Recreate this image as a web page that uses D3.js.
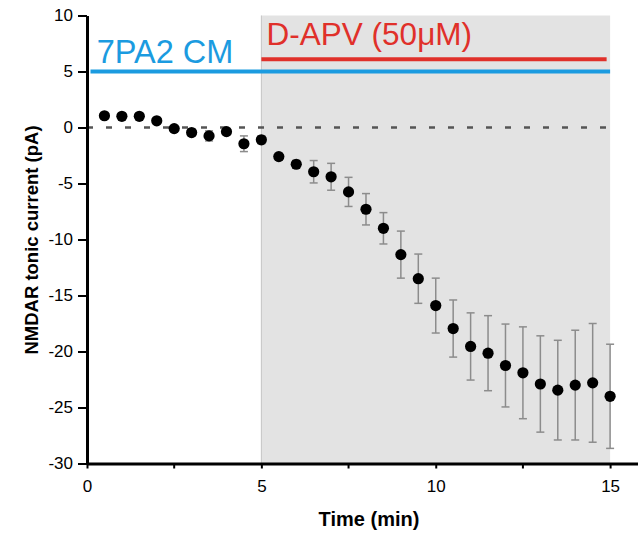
<!DOCTYPE html>
<html>
<head>
<meta charset="utf-8">
<script src="https://cdn.jsdelivr.net/npm/d3@7"></script>
<style>
  body { margin: 0; background: #fff; }
  svg { display: block; font-family: Arial, "Liberation Sans", sans-serif; }
  .axis text { font-size: 17px; font-family: Arial, "Liberation Sans", sans-serif; fill: #000; }
</style>
</head>
<body>
<div id="root"></div>
<script>
// time points (min)
const times = [0.5, 1, 1.5, 2, 2.5, 3, 3.5, 4, 4.5, 5, 5.5, 6, 6.5, 7, 7.5, 8, 8.5, 9, 9.5, 10,
  10.5, 11, 11.5, 12, 12.5, 13, 13.5, 14, 14.5, 15];
// mean NMDAR tonic current (pA)
const means = [1.05, 1.0, 1.0, 0.6, -0.1, -0.45, -0.75, -0.37, -1.45, -1.1, -2.6, -3.28, -3.95, -4.4,
  -5.75, -7.3, -9.0, -11.35, -13.5, -15.9, -17.95, -19.55, -20.15, -21.25, -21.9, -22.9, -23.45,
  -23.0, -22.8, -24.0];
// SEM (pA)
const sems = [0.2, 0.2, 0.2, 0.2, 0.25, 0.3, 0.45, 0.25, 0.7, 0.35, 0.3, 0.35, 1.0, 1.2,
  1.3, 1.4, 1.4, 2.1, 2.2, 2.45, 2.55, 3.0, 3.35, 3.7, 4.1, 4.3, 4.45, 4.9, 5.3, 4.65];

const xTicks = [0, 5, 10, 15];
const xMinorTicks = [2.5, 7.5, 12.5];
const yTicks = [10, 5, 0, -5, -10, -15, -20, -25, -30];

// drug application periods
const cmPeriod = [0.1, 15];   // 7PA2 CM
const apvPeriod = [5, 14.9];  // D-APV
const shadePeriod = [5, 15];

const data = times.map((t, i) => ({ t: t, m: means[i], e: sems[i] }));

const W = 638, H = 535;
const x = d3.scaleLinear().domain([0, 15.8]).range([87, 638]);
const y = d3.scaleLinear().domain([-30, 10]).range([463.5, 15.5]);

const svg = d3.select('#root').append('svg')
  .attr('width', W)
  .attr('height', H);

// shaded D-APV region
svg.append('rect')
  .attr('x', x(shadePeriod[0]))
  .attr('y', y(10))
  .attr('width', x(shadePeriod[1]) - x(shadePeriod[0]))
  .attr('height', y(-30) - y(10))
  .attr('fill', '#e3e3e3');
svg.append('line')
  .attr('x1', x(shadePeriod[0])).attr('x2', x(shadePeriod[0]))
  .attr('y1', y(10)).attr('y2', y(-30))
  .attr('stroke', '#c4c4c4').attr('stroke-width', 1);

// zero line
svg.append('line')
  .attr('x1', x(0)).attr('x2', x(15))
  .attr('y1', y(0)).attr('y2', y(0))
  .attr('stroke', '#555').attr('stroke-width', 2.5)
  .attr('stroke-dasharray', '6,13');

// application bars
svg.append('line')
  .attr('x1', x(cmPeriod[0])).attr('x2', x(cmPeriod[1]))
  .attr('y1', y(5)).attr('y2', y(5))
  .attr('stroke', '#1b9be0').attr('stroke-width', 4);
svg.append('line')
  .attr('x1', x(apvPeriod[0])).attr('x2', x(apvPeriod[1]))
  .attr('y1', y(6.1)).attr('y2', y(6.1))
  .attr('stroke', '#e0302a').attr('stroke-width', 4);

svg.append('text')
  .attr('x', x(0.28)).attr('y', 63)
  .attr('fill', '#1b9be0')
  .attr('font-size', 32.5)
  .text('7PA2 CM');
svg.append('text')
  .attr('x', x(5.15)).attr('y', 45)
  .attr('fill', '#e0302a')
  .attr('font-size', 31.5)
  .text('D-APV (50μM)');

// error bars
const eb = svg.append('g')
  .attr('stroke', '#8c8c8c')
  .attr('stroke-width', 1.5);
eb.selectAll('.bar').data(data).enter().append('line')
  .attr('x1', d => x(d.t)).attr('x2', d => x(d.t))
  .attr('y1', d => y(d.m + d.e)).attr('y2', d => y(d.m - d.e));
eb.selectAll('.capT').data(data).enter().append('line')
  .attr('x1', d => x(d.t) - 4).attr('x2', d => x(d.t) + 4)
  .attr('y1', d => y(d.m + d.e)).attr('y2', d => y(d.m + d.e));
eb.selectAll('.capB').data(data).enter().append('line')
  .attr('x1', d => x(d.t) - 4).attr('x2', d => x(d.t) + 4)
  .attr('y1', d => y(d.m - d.e)).attr('y2', d => y(d.m - d.e));

// points
svg.selectAll('.dot').data(data).enter().append('circle')
  .attr('cx', d => x(d.t))
  .attr('cy', d => y(d.m))
  .attr('r', 5.6)
  .attr('fill', '#000');

// axes
const xAxis = d3.axisBottom(x)
  .tickValues(xTicks)
  .tickFormat(d => String(d))
  .tickSize(5)
  .tickSizeOuter(0)
  .tickPadding(11);
const gx = svg.append('g')
  .attr('class', 'axis')
  .attr('transform', `translate(0, ${y(-30)})`)
  .call(xAxis);
gx.selectAll('.minor').data(xMinorTicks).enter().append('line')
  .attr('class', 'minor')
  .attr('x1', d => x(d)).attr('x2', d => x(d))
  .attr('y1', 0).attr('y2', 5)
  .attr('stroke', '#000').attr('stroke-width', 2);

const yAxis = d3.axisLeft(y)
  .tickValues(yTicks)
  .tickFormat(d => String(d))
  .tickSize(9)
  .tickSizeOuter(0)
  .tickPadding(5);
const gy = svg.append('g')
  .attr('class', 'axis')
  .attr('transform', `translate(${x(0)}, 0)`)
  .call(yAxis);

[gx, gy].forEach(g => {
  g.select('.domain').attr('stroke', '#000').attr('stroke-width', 3);
  g.selectAll('.tick line').attr('stroke', '#000').attr('stroke-width', 2);
});

// axis titles
svg.append('text')
  .attr('x', 369).attr('y', 526)
  .attr('text-anchor', 'middle')
  .attr('font-size', 20)
  .attr('font-weight', 'bold')
  .text('Time (min)');
svg.append('text')
  .attr('transform', 'translate(38, 240) rotate(-90)')
  .attr('text-anchor', 'middle')
  .attr('font-size', 18.5)
  .attr('font-weight', 'bold')
  .text('NMDAR tonic current (pA)');
</script>
</body>
</html>
